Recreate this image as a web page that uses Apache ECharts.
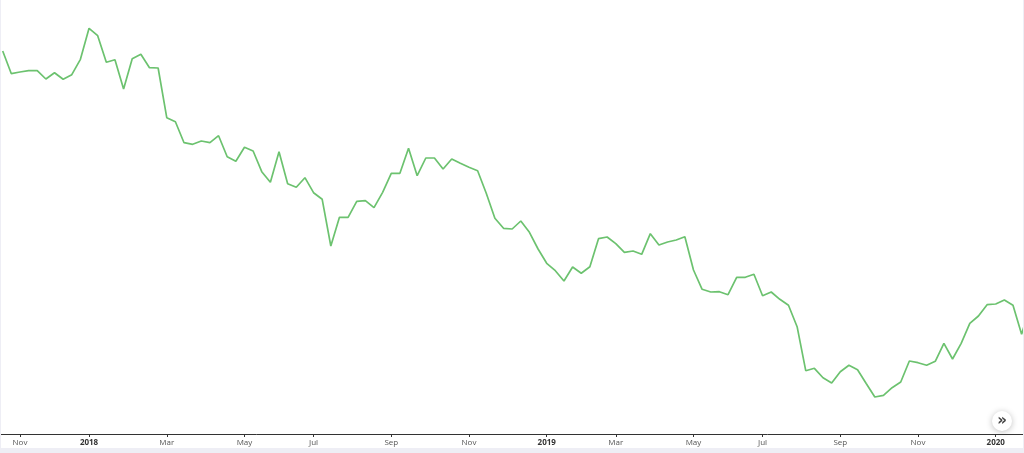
<!DOCTYPE html>
<html>
<head>
<meta charset="utf-8">
<script src="https://cdn.jsdelivr.net/npm/echarts@6/dist/echarts.min.js"></script>
<style>
  html, body { margin: 0; padding: 0; width: 1024px; height: 453px; background: #eeeef5; overflow: hidden; }
  #chart { position: absolute; left: 1px; top: 0; width: 1022px; height: 448px; background: #ffffff; }
</style>
</head>
<body>
<div id="chart"></div>
<script>
// Weekly observations (Mondays) starting 2017-10-23
const startDate = '2017-10-23';
const values = [
  383, 360.3, 362, 363.3, 363.3, 355, 361.3, 354.7, 359.3, 374.7,
  405.7, 398.3, 371.7, 374.3, 345, 375.3, 379.7, 366.3, 366, 316.3,
  312.3, 291.3, 289.7, 293, 291.3, 298.3, 277.3, 272.7, 286.7, 283,
  262.3, 251.7, 282.3, 250.3, 246.7, 256.3, 241.3, 234.7, 188, 216.7,
  216.7, 232.7, 233.3, 226.3, 241.7, 260.7, 260.7, 285.7, 258.3, 276,
  276, 265, 275, 270.7, 266.7, 263.3, 240.7, 215.7, 205.7, 205,
  213, 201.7, 185, 170.7, 163.3, 153, 167, 160.7, 167.3, 195.3,
  197, 190.3, 181.7, 183, 179.7, 200.3, 189, 192, 194, 197.3,
  164, 144.7, 142, 142.3, 139.3, 156.7, 156.7, 159.7, 138.3, 142,
  134.7, 128.7, 107.3, 63.3, 65.7, 56.3, 51, 62.3, 68.7, 64.3,
  50.5, 37, 38.7, 46.3, 52, 73, 71.3, 68.7, 72.7, 90.7,
  75, 90.7, 110.7, 118, 129.3, 130, 134, 128.7, 99.7, 128
];
const tickDates = ['2017-11-06','2018-01-01','2018-03-05','2018-05-07','2018-07-02','2018-09-03','2018-11-05',
                   '2019-01-07','2019-03-04','2019-05-06','2019-07-01','2019-09-02','2019-11-04','2020-01-06'];
const tickLabels = ['Nov','2018','Mar','May','Jul','Sep','Nov','2019','Mar','May','Jul','Sep','Nov','2020'];

// categories: one weekly date per value
const categories = [];
{
  const d0 = new Date(startDate + 'T00:00:00Z');
  for (let i = 0; i < values.length; i++) {
    const d = new Date(d0.getTime() + i * 7 * 86400000);
    categories.push(d.toISOString().slice(0, 10));
  }
}
const tickIdx = tickDates.map(d => categories.indexOf(d));
const labelMap = {};
tickIdx.forEach((ix, k) => { labelMap[ix] = tickLabels[k]; });

const chart = echarts.init(document.getElementById('chart'), null, { renderer: 'canvas' });
chart.setOption({
  animation: false,
  backgroundColor: '#ffffff',
  grid: { left: 0, right: 0, top: 0, bottom: 14, containLabel: false },
  xAxis: {
    type: 'value',
    min: -0.197,
    max: 118.16,
    axisLine: { show: true, onZero: false, lineStyle: { color: '#333333', width: 1 } },
    axisTick: { show: true, length: 3, customValues: tickIdx, lineStyle: { color: '#333333' } },
    splitLine: { show: false },
    axisLabel: {
      customValues: tickIdx,
      margin: 5,
      fontSize: 8,
      fontFamily: 'Open Sans',
      color: '#555555',
      formatter: function (v) {
        const t = labelMap[Math.round(v)] || '';
        return /^\d{4}$/.test(t) ? '{y|' + t + '}' : t;
      },
      rich: { y: { fontSize: 8, fontWeight: 'bold', color: '#333333', fontFamily: 'Open Sans' } }
    }
  },
  yAxis: {
    type: 'value',
    position: 'right',
    min: 0,
    max: 434,
    axisLine: { show: true, onZero: false, lineStyle: { color: '#333333', width: 1 } },
    axisTick: { show: false },
    axisLabel: { show: false },
    splitLine: { show: false }
  },
  series: [{
    type: 'line',
    data: values.map((v, i) => [i, v]),
    showSymbol: false,
    symbol: 'none',
    clip: true,
    lineStyle: { color: '#6cc26f', width: 1.7 },
    itemStyle: { color: '#6cc26f' }
  }],
  graphic: [{
    type: 'group',
    left: 991,
    top: 411,
    children: [
      { type: 'circle', shape: { cx: 10, cy: 10, r: 10 },
        style: { fill: '#ffffff', shadowBlur: 6, shadowColor: 'rgba(0,0,0,0.25)', shadowOffsetY: 1 } },
      { type: 'text', x: 10, y: 10,
        style: { text: '»', fontSize: 15, fontWeight: 'bold', fill: '#444444', align: 'center', verticalAlign: 'middle', fontFamily: 'DejaVu Sans' } }
    ]
  }]
});
</script>
</body>
</html>
